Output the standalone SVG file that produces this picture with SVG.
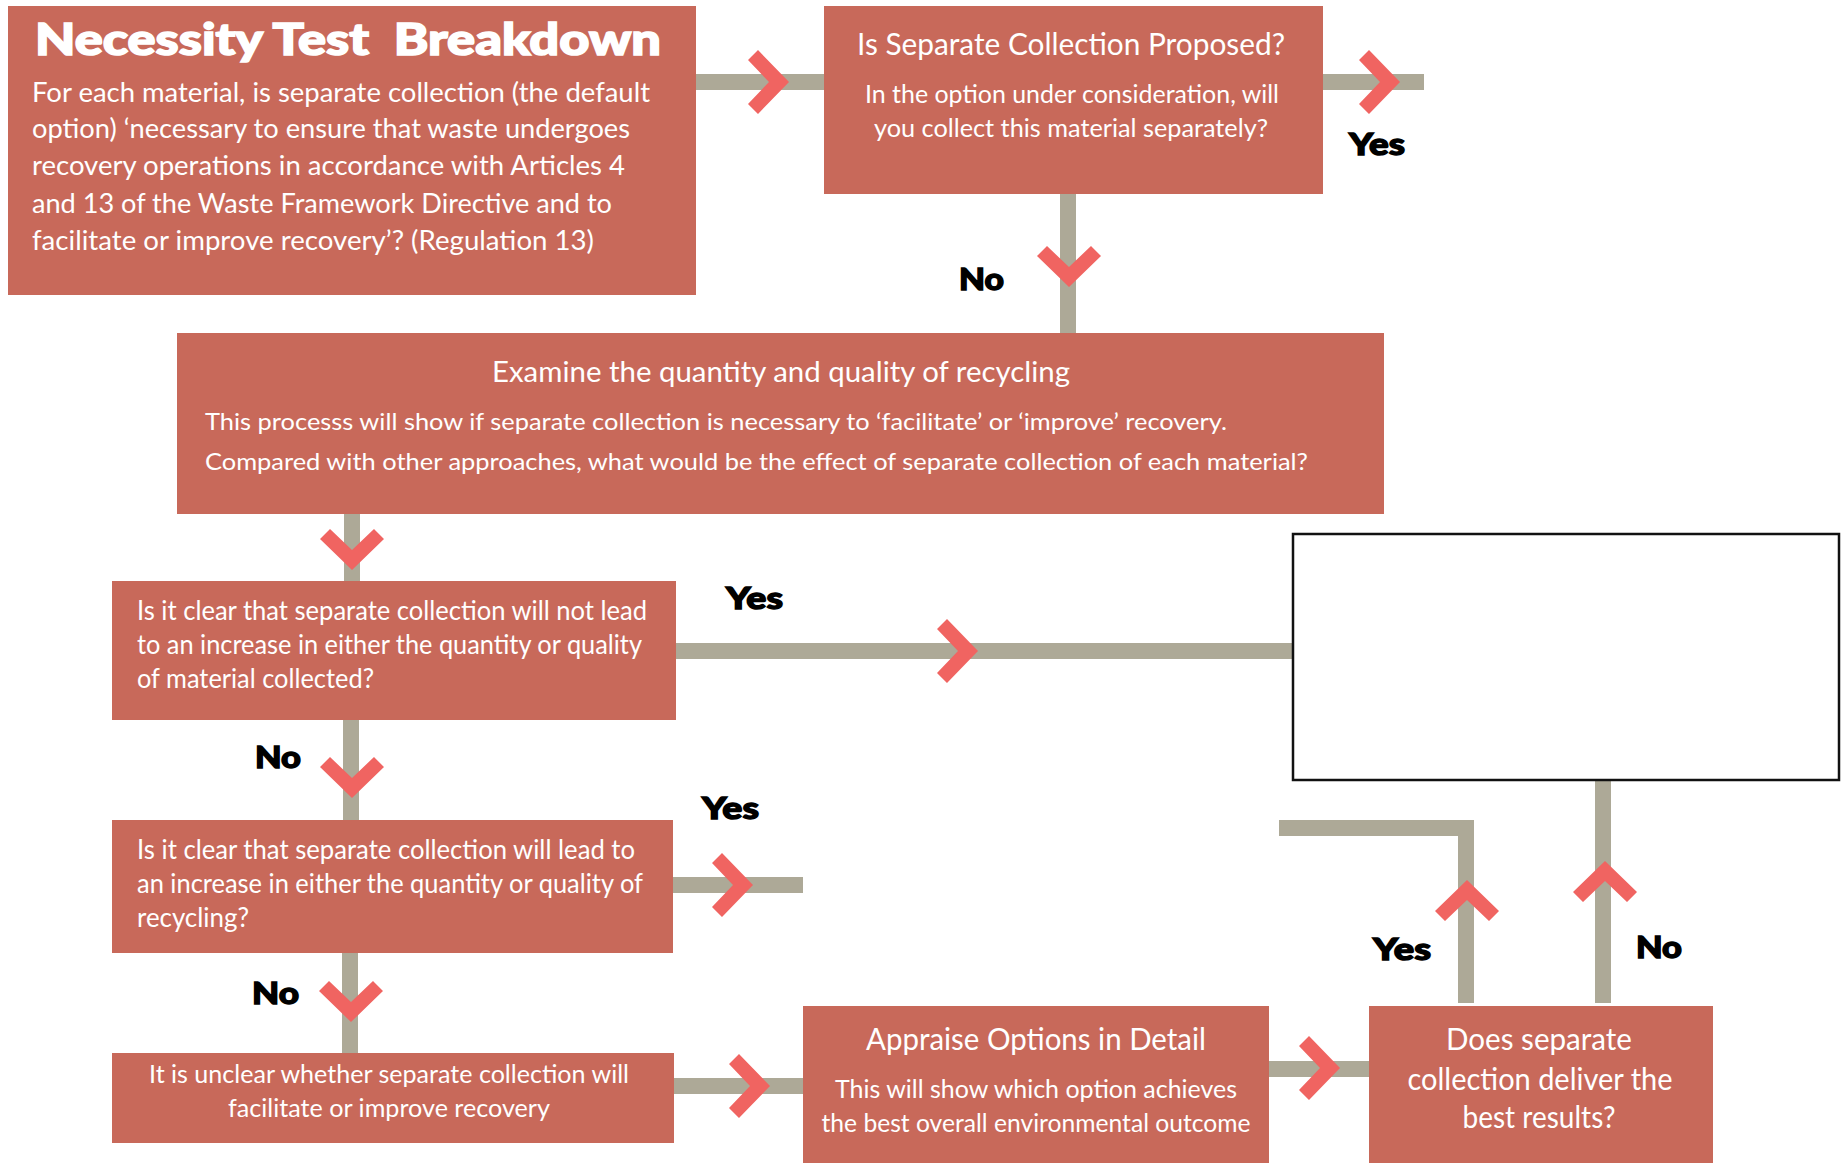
<svg xmlns="http://www.w3.org/2000/svg" xmlns:xlink="http://www.w3.org/1999/xlink" width="1841" height="1163" viewBox="0 0 1841 1163">
<defs>
<style>
.box{fill:#C8695A}
.t{font-family:Lato,"Liberation Sans",sans-serif;fill:#ffffff;font-weight:400}
.h{font-family:Lato,"Liberation Sans",sans-serif;fill:#ffffff;font-weight:900;stroke:#ffffff;stroke-width:1.6px}
.lbl{font-family:Lato,"Liberation Sans",sans-serif;fill:#000000;font-weight:900;font-size:31px;stroke:#000000;stroke-width:1.4px}
.bar{stroke:#ADA997;stroke-width:16;fill:none;stroke-linejoin:miter;stroke-linecap:butt}
.chev{fill:#F06461}
</style>
<polygon id="chev" points="0,0 -31,-32 -41,-22 -20,0 -41,22 -31,32"/>
</defs>

<g id="connectors">
<line class="bar" x1="696" y1="82" x2="824" y2="82"/>
<line class="bar" x1="1323" y1="82" x2="1424" y2="82"/>
<line class="bar" x1="1068" y1="194" x2="1068" y2="333"/>
<line class="bar" x1="352" y1="514" x2="352" y2="581"/>
<line class="bar" x1="676" y1="651" x2="1296" y2="651"/>
<line class="bar" x1="351" y1="720" x2="351" y2="820"/>
<line class="bar" x1="673" y1="885" x2="803" y2="885"/>
<line class="bar" x1="350" y1="953" x2="350" y2="1053"/>
<line class="bar" x1="674" y1="1086" x2="803" y2="1086"/>
<line class="bar" x1="1269" y1="1069" x2="1369" y2="1069"/>
<polyline class="bar" points="1466,1003 1466,828 1279,828"/>
<line class="bar" x1="1603" y1="1003" x2="1603" y2="780"/>
<use xlink:href="#chev" class="chev" transform="translate(789,82)"/>
<use xlink:href="#chev" class="chev" transform="translate(1400,82)"/>
<use xlink:href="#chev" class="chev" transform="translate(1069,287) rotate(90)"/>
<use xlink:href="#chev" class="chev" transform="translate(352,570) rotate(90)"/>
<use xlink:href="#chev" class="chev" transform="translate(978,651)"/>
<use xlink:href="#chev" class="chev" transform="translate(352,798) rotate(90)"/>
<use xlink:href="#chev" class="chev" transform="translate(753,885)"/>
<use xlink:href="#chev" class="chev" transform="translate(351,1022) rotate(90)"/>
<use xlink:href="#chev" class="chev" transform="translate(770,1086)"/>
<use xlink:href="#chev" class="chev" transform="translate(1340,1068)"/>
<use xlink:href="#chev" class="chev" transform="translate(1467,880) rotate(-90)"/>
<use xlink:href="#chev" class="chev" transform="translate(1605,861) rotate(-90)"/>
<text class="lbl" x="1349" y="155" textLength="56" lengthAdjust="spacingAndGlyphs">Yes</text>
<text class="lbl" x="959" y="290" textLength="45" lengthAdjust="spacingAndGlyphs">No</text>
<text class="lbl" x="726" y="609" textLength="57" lengthAdjust="spacingAndGlyphs">Yes</text>
<text class="lbl" x="255" y="768" textLength="46" lengthAdjust="spacingAndGlyphs">No</text>
<text class="lbl" x="702" y="819" textLength="57" lengthAdjust="spacingAndGlyphs">Yes</text>
<text class="lbl" x="252" y="1004" textLength="47" lengthAdjust="spacingAndGlyphs">No</text>
<text class="lbl" x="1373" y="960" textLength="58" lengthAdjust="spacingAndGlyphs">Yes</text>
<text class="lbl" x="1636" y="958" textLength="46" lengthAdjust="spacingAndGlyphs">No</text>
</g>

<g id="necessity">
<rect class="box" x="8" y="6" width="688" height="289"/>
<text class="h" x="35" y="55" font-size="44" textLength="626" lengthAdjust="spacingAndGlyphs" xml:space="preserve">Necessity Test  Breakdown</text>
<text class="t" font-size="26" x="32" y="102" textLength="618" lengthAdjust="spacingAndGlyphs">For each material, is separate collection (the default</text>
<text class="t" font-size="26" x="32" y="138" textLength="598" lengthAdjust="spacingAndGlyphs">option) ‘necessary to ensure that waste undergoes</text>
<text class="t" font-size="26" x="32" y="175" textLength="593" lengthAdjust="spacingAndGlyphs">recovery operations in accordance with Articles 4</text>
<text class="t" font-size="26" x="32" y="213" textLength="580" lengthAdjust="spacingAndGlyphs">and 13 of the Waste Framework Directive and to</text>
<text class="t" font-size="26" x="32" y="250" textLength="562" lengthAdjust="spacingAndGlyphs">facilitate or improve recovery’? (Regulation 13)</text>
</g>

<g id="proposed">
<rect class="box" x="824" y="6" width="499" height="188"/>
<text class="t" font-size="30" x="1071" y="55" text-anchor="middle" textLength="428" lengthAdjust="spacingAndGlyphs">Is Separate Collection Proposed?</text>
<text class="t" font-size="25" x="1072" y="103" text-anchor="middle" textLength="414" lengthAdjust="spacingAndGlyphs">In the option under consideration, will</text>
<text class="t" font-size="25" x="1071" y="137" text-anchor="middle" textLength="394" lengthAdjust="spacingAndGlyphs">you collect this material separately?</text>
</g>

<g id="examine">
<rect class="box" x="177" y="333" width="1207" height="181"/>
<text class="t" font-size="28" x="781" y="382" text-anchor="middle" textLength="578" lengthAdjust="spacingAndGlyphs">Examine the quantity and quality of recycling</text>
<text class="t" font-size="24" x="205" y="430" textLength="1022" lengthAdjust="spacingAndGlyphs">This processs will show if separate collection is necessary to ‘facilitate’ or ‘improve’ recovery.</text>
<text class="t" font-size="24" x="205" y="470" textLength="1103" lengthAdjust="spacingAndGlyphs">Compared with other approaches, what would be the effect of separate collection of each material?</text>
</g>

<g id="not-lead">
<rect class="box" x="112" y="581" width="564" height="139"/>
<text class="t" font-size="26" x="137" y="620" textLength="510" lengthAdjust="spacingAndGlyphs">Is it clear that separate collection will not lead</text>
<text class="t" font-size="26" x="137" y="654" textLength="505" lengthAdjust="spacingAndGlyphs">to an increase in either the quantity or quality</text>
<text class="t" font-size="26" x="137" y="688" textLength="237" lengthAdjust="spacingAndGlyphs">of material collected?</text>
</g>

<g id="outcome-box">
<rect x="1293" y="534" width="546" height="246" fill="#ffffff" stroke="#111111" stroke-width="2.5"/>
</g>

<g id="will-lead">
<rect class="box" x="112" y="820" width="561" height="133"/>
<text class="t" font-size="26" x="137" y="859" textLength="498" lengthAdjust="spacingAndGlyphs">Is it clear that separate collection will lead to</text>
<text class="t" font-size="26" x="137" y="893" textLength="506" lengthAdjust="spacingAndGlyphs">an increase in either the quantity or quality of</text>
<text class="t" font-size="26" x="137" y="927" textLength="112" lengthAdjust="spacingAndGlyphs">recycling?</text>
</g>

<g id="unclear">
<rect class="box" x="112" y="1053" width="562" height="90"/>
<text class="t" font-size="25" x="389" y="1083" text-anchor="middle" textLength="480" lengthAdjust="spacingAndGlyphs">It is unclear whether separate collection will</text>
<text class="t" font-size="25" x="389" y="1117" text-anchor="middle" textLength="322" lengthAdjust="spacingAndGlyphs">facilitate or improve recovery</text>
</g>

<g id="appraise">
<rect class="box" x="803" y="1006" width="466" height="157"/>
<text class="t" font-size="30" x="1036" y="1050" text-anchor="middle" textLength="340" lengthAdjust="spacingAndGlyphs">Appraise Options in Detail</text>
<text class="t" font-size="25" x="1036" y="1098" text-anchor="middle" textLength="402" lengthAdjust="spacingAndGlyphs">This will show which option achieves</text>
<text class="t" font-size="25" x="1036" y="1132" text-anchor="middle" textLength="429" lengthAdjust="spacingAndGlyphs">the best overall environmental outcome</text>
</g>

<g id="best-results">
<rect class="box" x="1369" y="1006" width="344" height="157"/>
<text class="t" font-size="30" x="1539" y="1050" text-anchor="middle" textLength="186" lengthAdjust="spacingAndGlyphs">Does separate</text>
<text class="t" font-size="30" x="1540" y="1090" text-anchor="middle" textLength="265" lengthAdjust="spacingAndGlyphs">collection deliver the</text>
<text class="t" font-size="30" x="1539" y="1128" text-anchor="middle" textLength="153" lengthAdjust="spacingAndGlyphs">best results?</text>
</g>
</svg>
